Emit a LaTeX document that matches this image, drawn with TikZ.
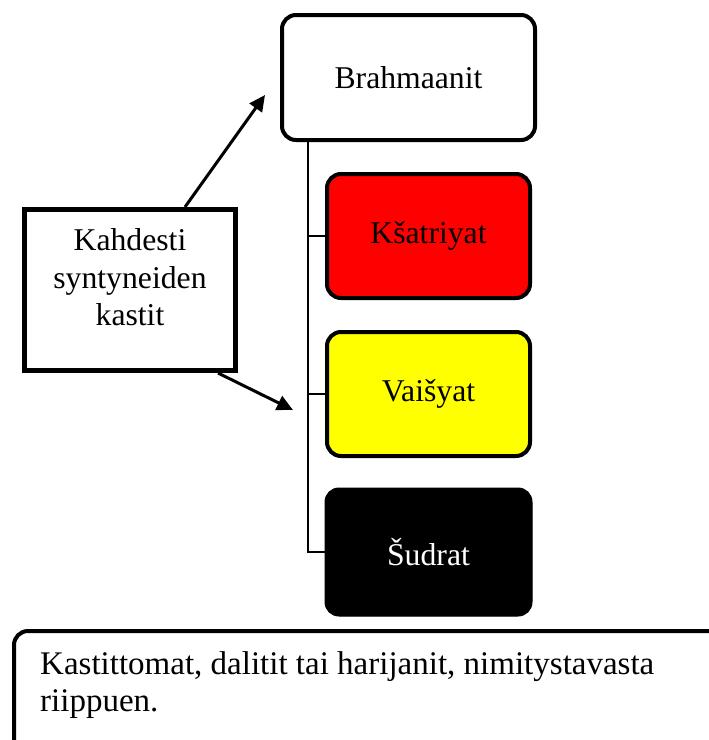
\documentclass[tikz,border=0pt]{standalone}
\usepackage{fontspec}
\setmainfont{Liberation Serif}
\usetikzlibrary{arrows.meta}
\definecolor{kred}{RGB}{255,0,0}
\definecolor{kyellow}{RGB}{255,255,0}
\begin{document}
\begin{tikzpicture}[x=1pt,y=-1pt,
  box/.style={draw=black, line width=4pt, rounded corners=14pt, inner sep=0pt},
  lbl/.style={font=\fontsize{31.7}{37.5}\selectfont},
  conn/.style={line width=2pt},
  arr/.style={line width=3pt, -{Triangle[length=16pt,width=15pt]}}
]
\clip (0,0) rectangle (709,740);
\useasboundingbox (0,0) rectangle (709,740);
% main boxes
\node[box, fill=white, minimum width=253pt, minimum height=125pt, lbl] (b) at (408.5,77.5) {Brahmaanit};
\node[box, fill=kred, minimum width=203pt, minimum height=124pt, lbl] (k) at (428.5,236) {Kšatriyat};
\node[box, fill=kyellow, minimum width=203pt, minimum height=124pt, lbl] (v) at (428.5,394) {Vaišyat};
\node[box, fill=black, line width=1pt, minimum width=207pt, minimum height=128pt, lbl, text=white] (s) at (428.5,552) {Šudrat};
% trunk
\coordinate (trunk) at (308,0);
\draw[conn] (b.south -| trunk) |- (s.west);
\draw[conn] (k.west -| trunk) -- (k.west);
\draw[conn] (v.west -| trunk) -- (v.west);
% side box
\node[draw=black, line width=5pt, minimum width=211pt, minimum height=161pt, inner sep=0pt, fill=white] (kd) at (130,290) {};
\node[lbl, align=center, inner sep=0pt] (kdt) at (130,277.5) {Kahdesti\\syntyneiden\\kastit};
\coordinate (t1) at (265,95);
\coordinate (t2) at (293,410);
\draw[arr] ([xshift=55pt]kd.north) -- (t1);
\draw[arr] ([xshift=88pt]kd.south) -- (t2);
% bottom box
\node[box, minimum width=720pt, minimum height=140pt, anchor=north west] (bot) at (12,629) {};
\node[font=\fontsize{33}{37}\selectfont, align=left, anchor=north west, inner sep=0pt] (bott) at (40,651) {Kastittomat, dalitit tai harijanit, nimitystavasta\\riippuen.};
\end{tikzpicture}
\end{document}
